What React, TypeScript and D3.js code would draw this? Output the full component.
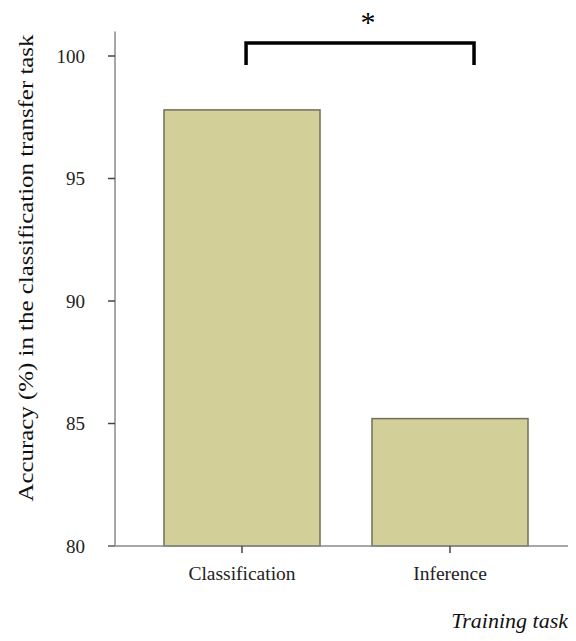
import React, { useEffect, useRef } from 'react';
import * as d3 from 'd3';

const categories = ['Classification', 'Inference'];
const accuracy = [97.8, 85.2];
const yTicks = [80, 85, 90, 95, 100];
const yTitle = 'Accuracy (%) in the classification transfer task';
const xTitle = 'Training task';
const sigLabel = '*';

export default function App() {
  const svgRef = useRef<SVGSVGElement | null>(null);

  useEffect(() => {
    if (!svgRef.current) return;
    const svg = d3.select(svgRef.current);
    svg.selectAll('*').remove();

    const font = "'Liberation Serif', 'Times New Roman', 'DejaVu Serif', serif";
    const axisColor = '#8a8a8a';

    const y = d3.scaleLinear().domain([80, 100]).range([546, 56]);
    const x = d3.scaleBand<string>()
      .domain(categories)
      .range([112, 580])
      .paddingInner(0.25)
      .paddingOuter(0.25);

    // bars
    svg.append('g')
      .selectAll('rect')
      .data(accuracy)
      .enter()
      .append('rect')
      .attr('x', (_, i) => x(categories[i])!)
      .attr('y', d => y(d))
      .attr('width', x.bandwidth())
      .attr('height', d => y(80) - y(d))
      .attr('fill', '#d3cf98')
      .attr('stroke', '#6f6f5c')
      .attr('stroke-width', 1.5);

    // y axis
    const axisX = 115;
    svg.append('line')
      .attr('x1', axisX).attr('x2', axisX)
      .attr('y1', y(80)).attr('y2', y(101))
      .attr('stroke', axisColor).attr('stroke-width', 1.5);

    const yt = svg.append('g');
    yt.selectAll('line')
      .data(yTicks)
      .enter()
      .append('line')
      .attr('x1', axisX - 7).attr('x2', axisX)
      .attr('y1', d => y(d)).attr('y2', d => y(d))
      .attr('stroke', '#444').attr('stroke-width', 1.5);
    yt.selectAll('text')
      .data(yTicks)
      .enter()
      .append('text')
      .attr('x', 85)
      .attr('y', d => y(d))
      .attr('dy', '0.35em')
      .attr('text-anchor', 'end')
      .attr('font-family', font)
      .attr('font-size', 19)
      .attr('fill', '#222')
      .text(d => d);

    // x axis
    svg.append('line')
      .attr('x1', axisX - 7).attr('x2', 576)
      .attr('y1', y(80)).attr('y2', y(80))
      .attr('stroke', axisColor).attr('stroke-width', 1.5);

    const xt = svg.append('g');
    xt.selectAll('line')
      .data(categories)
      .enter()
      .append('line')
      .attr('x1', d => x(d)! + x.bandwidth() / 2)
      .attr('x2', d => x(d)! + x.bandwidth() / 2)
      .attr('y1', y(80)).attr('y2', y(80) + 7)
      .attr('stroke', '#444').attr('stroke-width', 1.5);
    xt.selectAll('text')
      .data(categories)
      .enter()
      .append('text')
      .attr('x', d => x(d)! + x.bandwidth() / 2)
      .attr('y', 580)
      .attr('text-anchor', 'middle')
      .attr('font-family', font)
      .attr('font-size', 19.5)
      .attr('fill', '#222')
      .text(d => d);

    // axis titles
    svg.append('text')
      .attr('transform', `translate(33,268) rotate(-90)`)
      .attr('text-anchor', 'middle')
      .attr('font-family', font)
      .attr('font-size', 21)
      .attr('textLength', 467)
      .attr('lengthAdjust', 'spacingAndGlyphs')
      .attr('fill', '#111')
      .text(yTitle);

    svg.append('text')
      .attr('x', 568)
      .attr('y', 628)
      .attr('text-anchor', 'end')
      .attr('font-family', font)
      .attr('font-size', 22)
      .attr('font-style', 'italic')
      .attr('fill', '#111')
      .text(xTitle);

    // significance bracket
    const bx1 = x(categories[0])! + x.bandwidth() * 0.526;
    const bx2 = x(categories[1])! + x.bandwidth() * 0.654;
    const bTop = 43;
    const bBot = 65;
    svg.append('path')
      .attr('d', `M${bx1},${bBot} V${bTop} H${bx2} V${bBot}`)
      .attr('fill', 'none')
      .attr('stroke', '#000')
      .attr('stroke-width', 3.5);
    svg.append('text')
      .attr('x', (bx1 + bx2) / 2 + 8)
      .attr('y', 32)
      .attr('text-anchor', 'middle')
      .attr('font-family', font)
      .attr('font-size', 30)
      .attr('fill', '#000')
      .text(sigLabel);
  }, []);

  return (
    <div style={{ margin: -8 }}>
      <svg ref={svgRef} width={576} height={641} style={{ display: 'block', background: '#fff' }} />
    </div>
  );
}
